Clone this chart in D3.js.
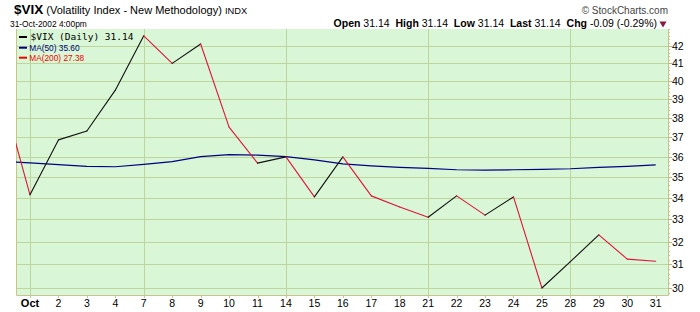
<!DOCTYPE html>
<html>
<head>
<meta charset="utf-8">
<script src="https://cdn.jsdelivr.net/npm/d3@7"></script>
<style>
  body { margin: 0; background: #fff; }
  svg { display: block; font-family: "Liberation Sans", Arial, sans-serif; }
</style>
</head>
<body>
<div id="chart"></div>
<script>
// trading days, Sep 30 first (only partly visible at the left edge)
const dayLabels = ["30", "Oct", "2", "3", "4", "7", "8", "9", "10", "11", "14", "15", "16", "17", "18",
  "21", "22", "23", "24", "25", "28", "29", "30", "31"];
const weekStarts = ["Oct", "7", "14", "21", "28"];
const vixClose = [39.4, 34.15, 36.86, 37.32, 39.5, 42.6, 41.0, 42.12, 37.52, 35.69, 36.0, 34.05, 36.0,
  34.1, 33.58, 33.1, 34.1, 33.2, 34.05, 30.0, 31.12, 32.3, 31.23, 31.14];
const ma50 = [35.77, 35.70, 35.61, 35.53, 35.51, 35.63, 35.76, 36.01, 36.11, 36.09, 36.01, 35.85, 35.65,
  35.55, 35.48, 35.43, 35.36, 35.34, 35.36, 35.38, 35.41, 35.48, 35.53, 35.60];
const yTicks = [30, 31, 32, 33, 34, 35, 36, 37, 38, 39, 40, 41, 42];

const W = 700, H = 312;
const box = { left: 16, right: 668, top: 29, bottom: 295 };

const svg = d3.select('#chart').append('svg')
  .attr('width', W)
  .attr('height', H);

// scales
const x = d3.scaleLinear().domain([1, dayLabels.length - 1]).range([30, 655.7]);
const y = d3.scaleLog().domain([30, 42]).range([288, 46]);

// plot background
svg.append('rect')
  .attr('x', box.left).attr('y', box.top)
  .attr('width', box.right - box.left).attr('height', box.bottom - box.top)
  .attr('fill', '#d9f6d6');

svg.append('clipPath').attr('id', 'plotclip')
  .append('rect')
  .attr('x', box.left).attr('y', box.top)
  .attr('width', box.right - box.left).attr('height', box.bottom - box.top);

// grid
const grid = svg.append('g').attr('stroke', '#bcd69c').attr('stroke-width', 1);
grid.selectAll('.hg').data(yTicks).enter().append('line')
  .attr('x1', box.left).attr('x2', box.right)
  .attr('y1', d => Math.round(y(d)) + 0.5).attr('y2', d => Math.round(y(d)) + 0.5);
grid.selectAll('.vg').data(weekStarts).enter().append('line')
  .attr('x1', d => Math.round(x(dayLabels.indexOf(d))) + 0.5)
  .attr('x2', d => Math.round(x(dayLabels.indexOf(d))) + 0.5)
  .attr('y1', box.top).attr('y2', box.bottom);

// border (left, bottom, right)
svg.append('path')
  .attr('d', `M${box.left + 0.5},${box.top}V${box.bottom + 0.5}H${box.right + 0.5}V${box.top}`)
  .attr('fill', 'none')
  .attr('stroke', '#c9c38e');

// right axis: minor ticks + labels
const minor = d3.range(29.8, 43.01, 0.2).filter(v => y(v) >= box.top && y(v) <= box.bottom);
svg.append('g').selectAll('line').data(minor).enter().append('line')
  .attr('x1', box.right).attr('x2', box.right + 2)
  .attr('y1', d => Math.round(y(d)) + 0.5).attr('y2', d => Math.round(y(d)) + 0.5)
  .attr('stroke', '#c9c38e');
const yAx = svg.append('g');
yAx.selectAll('line').data(yTicks).enter().append('line')
  .attr('x1', box.right).attr('x2', box.right + 4)
  .attr('y1', d => Math.round(y(d)) + 0.5).attr('y2', d => Math.round(y(d)) + 0.5)
  .attr('stroke', '#bcb680');
yAx.selectAll('text').data(yTicks).enter().append('text')
  .attr('x', 672).attr('y', d => y(d) + 4)
  .attr('font-size', '10.5px').attr('fill', '#000')
  .text(d => d);

// bottom axis
const xAx = svg.append('g');
xAx.selectAll('line').data(dayLabels.slice(1)).enter().append('line')
  .attr('x1', (d, i) => Math.round(x(i + 1)) + 0.5).attr('x2', (d, i) => Math.round(x(i + 1)) + 0.5)
  .attr('y1', box.bottom).attr('y2', box.bottom + 3)
  .attr('stroke', '#c9c38e');
xAx.selectAll('text').data(dayLabels.slice(1)).enter().append('text')
  .attr('x', (d, i) => x(i + 1)).attr('y', 306.5)
  .attr('text-anchor', 'middle')
  .attr('font-size', d => d === 'Oct' ? '11px' : '10.5px')
  .attr('font-weight', d => d === 'Oct' ? 'bold' : 'normal')
  .text(d => d);

const plot = svg.append('g').attr('clip-path', 'url(#plotclip)');

// MA(50)
plot.append('path')
  .datum(ma50)
  .attr('d', d3.line().x((d, i) => x(i)).y(d => y(d)))
  .attr('fill', 'none')
  .attr('stroke', '#000080')
  .attr('stroke-width', 1.2);

// price: black when rising, red when falling
const segs = d3.range(1, vixClose.length).map(i => ({ a: i - 1, b: i }));
plot.selectAll('.seg').data(segs).enter().append('line')
  .attr('x1', d => x(d.a)).attr('y1', d => y(vixClose[d.a]))
  .attr('x2', d => x(d.b)).attr('y2', d => y(vixClose[d.b]))
  .attr('stroke', d => vixClose[d.b] >= vixClose[d.a] ? '#111' : '#e0143c')
  .attr('stroke-width', 1.1)
  .attr('stroke-linecap', 'round');

// legend
const lg = svg.append('g');
const legendRows = [
  { label: '$VIX (Daily) 31.14', color: '#000', y: 40, font: '"DejaVu Sans Mono", monospace', size: '9.5px' },
  { label: 'MA(50) 35.60', color: '#000080', y: 50.5, font: '"Liberation Sans", Arial, sans-serif', size: '8.3px' },
  { label: 'MA(200) 27.38', color: '#f00000', y: 60.5, font: '"Liberation Sans", Arial, sans-serif', size: '8.3px' }
];
lg.selectAll('line').data(legendRows).enter().append('line')
  .attr('x1', 19).attr('x2', 27)
  .attr('y1', (d, i) => i === 0 ? 37 : d.y - 2.8).attr('y2', (d, i) => i === 0 ? 37 : d.y - 2.8)
  .attr('stroke', d => d.color).attr('stroke-width', 2);
lg.selectAll('text').data(legendRows).enter().append('text')
  .attr('x', (d, i) => i === 0 ? 30.5 : 29.3).attr('y', d => d.y)
  .attr('fill', d => d.color)
  .style('font-family', d => d.font)
  .attr('font-size', d => d.size)
  .text(d => d.label);

// header
const head = svg.append('text').attr('x', 14).attr('y', 14);
head.append('tspan').attr('font-weight', 'bold').attr('font-size', '13.5px').text('$VIX');
head.append('tspan').attr('font-size', '11px').text(' (Volatility Index - New Methodology) ');
head.append('tspan').attr('font-size', '9.3px').text('INDX');

svg.append('text').attr('x', 10).attr('y', 26.5)
  .attr('font-size', '8.4px')
  .text('31-Oct-2002 4:00pm');

svg.append('text').attr('x', 668).attr('y', 14)
  .attr('text-anchor', 'end')
  .attr('font-size', '10px').attr('fill', '#444')
  .text('© StockCharts.com');

const quote = [['Open', '31.14'], ['High', '31.14'], ['Low', '31.14'], ['Last', '31.14'], ['Chg', '-0.09 (-0.29%)']];
const qt = svg.append('text').attr('x', 657).attr('y', 26.5)
  .attr('text-anchor', 'end').attr('font-size', '10.5px');
quote.forEach((q, i) => {
  qt.append('tspan').attr('font-weight', 'bold').text((i ? '  ' : '') + q[0]);
  qt.append('tspan').text(' ' + q[1]);
});
qt.attr('xml:space', 'preserve');

// down-arrow after change
svg.append('path')
  .attr('d', d3.symbol().type(d3.symbolTriangle).size(22)())
  .attr('transform', 'translate(663,23.5) rotate(180)')
  .attr('fill', '#8b1a3c');
</script>
</body>
</html>
